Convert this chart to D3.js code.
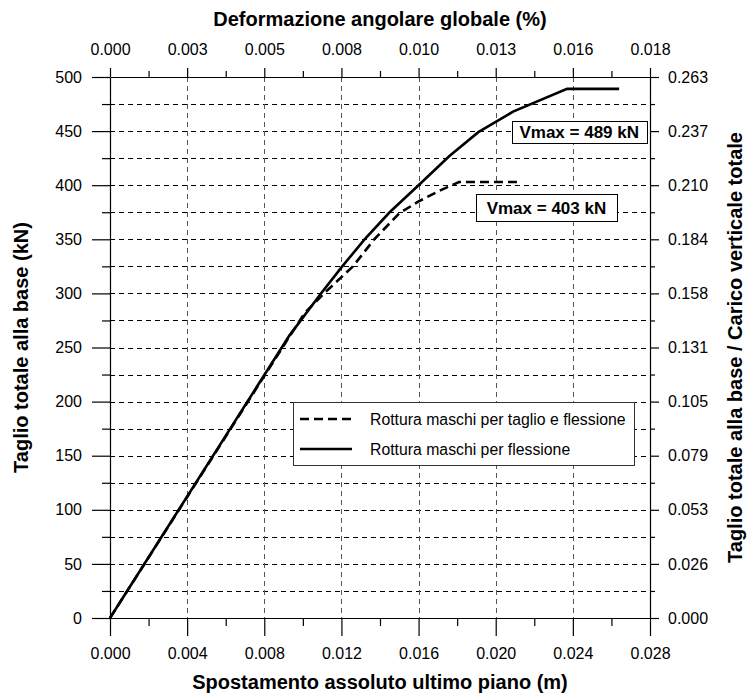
<!DOCTYPE html>
<html>
<head>
<meta charset="utf-8">
<script src="https://cdn.jsdelivr.net/npm/d3@7"></script>
<style>
  body { margin: 0; background: #fff; }
  svg { display: block; font-family: Arial, "Liberation Sans", sans-serif; }
  .tick text { fill: #000; }
</style>
</head>
<body>
<svg id="chart" width="747" height="697"></svg>
<script>
// displacement (m) vs base shear (kN)
const shearFlexDisp = [0, 0.0093, 0.0101, 0.0111, 0.0120, 0.0126, 0.0137, 0.0150, 0.0160, 0.0171, 0.0181, 0.0211];
const shearFlexV    = [0, 260, 282, 300, 315, 325, 350, 374, 385, 395, 403, 403];

const flexDisp = [0, 0.0093, 0.0109, 0.0120, 0.0132, 0.0145, 0.0160, 0.0176, 0.0191, 0.0209, 0.0237, 0.0264];
const flexV    = [0, 261, 299, 324, 350, 375, 400, 427, 449, 468, 489, 489];

const seriesNames = ["Rottura maschi per taglio e flessione", "Rottura maschi per flessione"];

const xMajor = [0, 0.004, 0.008, 0.012, 0.016, 0.020, 0.024, 0.028];
const xMinor = [0.002, 0.006, 0.010, 0.014, 0.018, 0.022, 0.026];
const yMajor = [0, 50, 100, 150, 200, 250, 300, 350, 400, 450, 500];
const yMinor = [25, 75, 125, 175, 225, 275, 325, 375, 425, 475];

const topLabels = ["0.000", "0.003", "0.005", "0.008", "0.010", "0.013", "0.016", "0.018"];
const rightLabels = ["0.000", "0.026", "0.053", "0.079", "0.105", "0.131", "0.158", "0.184", "0.210", "0.237", "0.263"];

const vmaxLabels = ["Vmax = 489 kN", "Vmax = 403 kN"];

const svg = d3.select("#chart");
const margin = { left: 110, top: 77, right: 97, bottom: 79 };
const width = 747 - margin.left - margin.right;   // 540
const height = 697 - margin.top - margin.bottom;  // 541

const x = d3.scaleLinear().domain([0, 0.028]).range([0, width]);
const y = d3.scaleLinear().domain([0, 500]).range([height, 0]);

const g = svg.append("g").attr("transform", `translate(${margin.left},${margin.top})`);

// grid
g.append("g").selectAll("line")
    .data(yMinor.concat(yMajor.slice(1, -1)))
    .join("line")
    .attr("x1", 0).attr("x2", width)
    .attr("y1", d => Math.round(y(d)) + 0.5).attr("y2", d => Math.round(y(d)) + 0.5)
    .attr("stroke", "#000").attr("stroke-width", 1)
    .attr("stroke-dasharray", "5,4");

g.append("g").selectAll("line")
    .data(xMajor.slice(1, -1))
    .join("line")
    .attr("x1", d => Math.round(x(d)) + 0.5).attr("x2", d => Math.round(x(d)) + 0.5)
    .attr("y1", 0).attr("y2", height)
    .attr("stroke", "#555").attr("stroke-width", 1)
    .attr("stroke-dasharray", "5,4");

// axes
function styleAxis(sel) {
    sel.selectAll("path.domain").attr("stroke", "#000").attr("stroke-width", 1.2);
    sel.selectAll(".tick line").attr("stroke", "#000").attr("stroke-width", 1.2);
    sel.selectAll(".tick text").style("font-size", "16px");
}

const fmt = d3.format(".3f");

g.append("g").attr("transform", `translate(0,${height})`)
    .call(d3.axisBottom(x).tickValues(xMajor).tickSize(18).tickSizeOuter(0).tickPadding(12).tickFormat(fmt))
    .call(styleAxis);
g.append("g").attr("transform", `translate(0,${height})`)
    .call(d3.axisBottom(x).tickValues(xMinor).tickSize(8).tickFormat(""))
    .call(styleAxis).select(".domain").remove();

g.append("g")
    .call(d3.axisTop(x).tickValues(xMajor).tickSize(9).tickSizeOuter(0).tickPadding(13).tickFormat((d, i) => topLabels[i]))
    .call(styleAxis);
g.append("g")
    .call(d3.axisTop(x).tickValues(xMinor).tickSize(6).tickFormat(""))
    .call(styleAxis).select(".domain").remove();

g.append("g")
    .call(d3.axisLeft(y).tickValues(yMajor).tickSize(18).tickSizeOuter(0).tickPadding(10).tickFormat(d3.format("d")))
    .call(styleAxis);
g.append("g")
    .call(d3.axisLeft(y).tickValues(yMinor).tickSize(8).tickFormat(""))
    .call(styleAxis).select(".domain").remove();

g.append("g").attr("transform", `translate(${width},0)`)
    .call(d3.axisRight(y).tickValues(yMajor).tickSize(9).tickSizeOuter(0).tickPadding(9).tickFormat((d, i) => rightLabels[i]))
    .call(styleAxis);
g.append("g").attr("transform", `translate(${width},0)`)
    .call(d3.axisRight(y).tickValues(yMinor).tickSize(5).tickFormat(""))
    .call(styleAxis).select(".domain").remove();

// curves
const line = d3.line().x(d => x(d[0])).y(d => y(d[1]));

g.append("path")
    .datum(flexDisp.map((d, i) => [d, flexV[i]]))
    .attr("d", line)
    .attr("fill", "none").attr("stroke", "#000").attr("stroke-width", 2.6);

g.append("path")
    .datum(shearFlexDisp.map((d, i) => [d, shearFlexV[i]]))
    .attr("d", line)
    .attr("fill", "none").attr("stroke", "#000").attr("stroke-width", 2.6)
    .attr("stroke-dasharray", "9,5");

// Vmax boxes
const boxes = [
    { text: vmaxLabels[0], cx: 0.02433, cy: 449, w: 135, h: 22 },
    { text: vmaxLabels[1], cx: 0.02263, cy: 379, w: 141, h: 27 }
];
boxes.forEach(b => {
    const bx = x(b.cx), by = y(b.cy);
    g.append("rect")
        .attr("x", Math.round(bx - b.w / 2) + 0.5).attr("y", Math.round(by - b.h / 2) + 0.5)
        .attr("width", b.w).attr("height", b.h)
        .attr("fill", "#fff").attr("stroke", "#000").attr("stroke-width", 1);
    g.append("text")
        .attr("x", bx).attr("y", by).attr("dy", "0.36em")
        .attr("text-anchor", "middle")
        .style("font-size", "17px").style("font-weight", "bold")
        .text(b.text);
});

// legend
const legend = g.append("g").attr("transform", `translate(${293 - margin.left},${402 - margin.top})`);
legend.append("rect")
    .attr("x", 0.5).attr("y", 0.5).attr("width", 341).attr("height", 63)
    .attr("fill", "#fff").attr("stroke", "#333").attr("stroke-width", 1);
seriesNames.forEach((name, i) => {
    const ly = 17 + i * 30;
    legend.append("line")
        .attr("x1", 7).attr("x2", 59).attr("y1", ly).attr("y2", ly)
        .attr("stroke", "#000").attr("stroke-width", 2.6)
        .attr("stroke-dasharray", i === 0 ? "9,5" : null);
    legend.append("text")
        .attr("x", 77).attr("y", ly).attr("dy", "0.35em")
        .style("font-size", "15.8px")
        .text(name);
});

// titles
svg.append("text")
    .attr("x", margin.left + width / 2).attr("y", 26)
    .attr("text-anchor", "middle")
    .style("font-size", "20px").style("font-weight", "bold")
    .text("Deformazione angolare globale (%)");

svg.append("text")
    .attr("x", margin.left + width / 2).attr("y", 689)
    .attr("text-anchor", "middle")
    .style("font-size", "20px").style("font-weight", "bold")
    .text("Spostamento assoluto ultimo piano (m)");

svg.append("text")
    .attr("transform", `translate(21,${margin.top + height / 2}) rotate(-90)`)
    .attr("text-anchor", "middle").attr("dy", "0.35em")
    .style("font-size", "20px").style("font-weight", "bold")
    .text("Taglio totale alla base (kN)");

svg.append("text")
    .attr("transform", `translate(735,${margin.top + height / 2}) rotate(-90)`)
    .attr("text-anchor", "middle").attr("dy", "0.35em")
    .style("font-size", "20px").style("font-weight", "bold")
    .text("Taglio totale alla base / Carico verticale totale");
</script>
</body>
</html>
